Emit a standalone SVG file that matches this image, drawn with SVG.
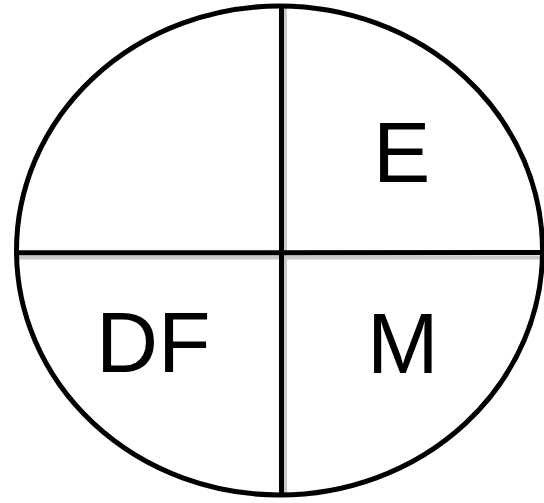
<svg xmlns="http://www.w3.org/2000/svg" width="544" height="503" viewBox="0 0 544 503">
<style>
.ln{stroke:#000;stroke-width:5;fill:none}
.sh{stroke:#c8c8c8;stroke-width:4;fill:none}
.lbl{font-family:"Liberation Sans",Arial,sans-serif;font-size:86px;fill:#000}
</style>
<rect width="544" height="503" fill="#fff"/>
<g id="connectors">
<line class="sh" x1="18" y1="257.5" x2="542" y2="257.5"/>
<line class="sh" x1="285" y1="8" x2="285" y2="495"/>
<ellipse id="circle" class="ln" cx="279.5" cy="250.5" rx="263" ry="244.5"/>
<line class="ln" x1="16" y1="252.8" x2="543" y2="252.5"/>
<line class="ln" x1="281.5" y1="6" x2="281.5" y2="495"/>
</g>
<g id="E"><text class="lbl" x="373" y="182">E</text></g>
<g id="DF"><text class="lbl" x="96" y="372">DF</text></g>
<g id="M"><text class="lbl" x="367" y="373">M</text></g>
</svg>
